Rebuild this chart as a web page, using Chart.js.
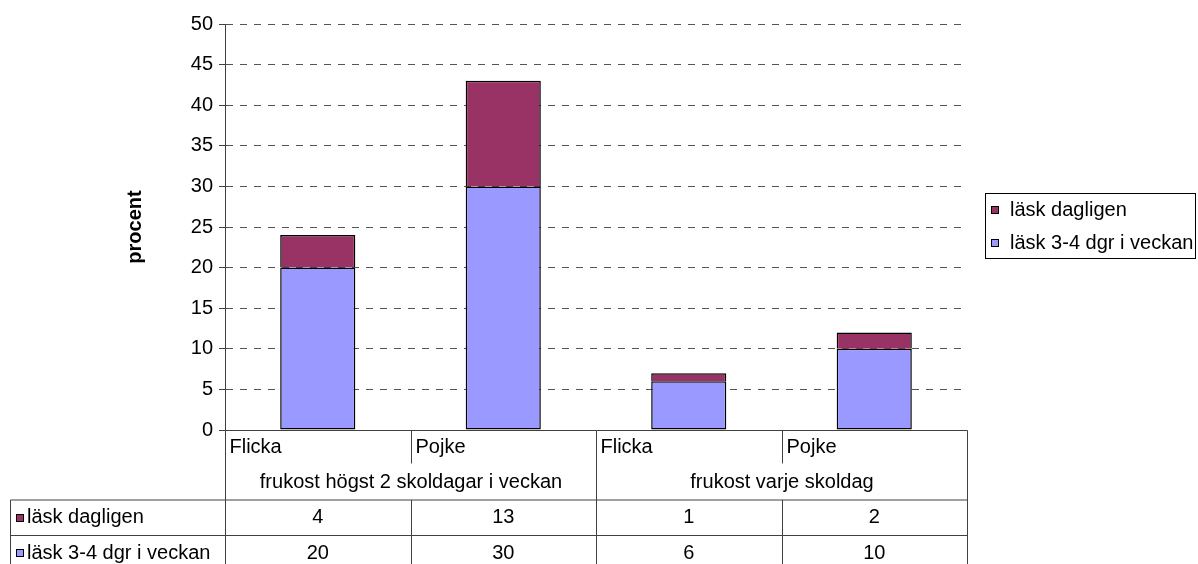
<!DOCTYPE html>
<html lang="sv">
<head>
<meta charset="UTF-8">
<title>Läsk och frukost</title>
<script src="https://cdn.jsdelivr.net/npm/chart.js"></script>
<style>
  html, body { margin: 0; padding: 0; background: #fff; }
</style>
</head>
<body>
<canvas id="chart" width="1198" height="564"></canvas>
<script>
// data
const categories = ['Flicka', 'Pojke', 'Flicka', 'Pojke'];
const groups = ['frukost högst 2 skoldagar i veckan', 'frukost varje skoldag'];
const seriesNames = ['läsk dagligen', 'läsk 3-4 dgr i veckan'];
const daily = [4, 13, 1, 2];
const weekly = [20, 30, 6, 10];
const yMin = 0, yMax = 50, yStep = 5;

const FONT = "'Liberation Sans', Arial, sans-serif";
const LINE = '#404040';
Chart.defaults.font.family = FONT;
Chart.defaults.font.size = 20;
Chart.defaults.color = '#000';

// data table under the plot + framed legend at the right
const tablePlugin = {
    id: 'dataTable',
    afterDraw(chart) {
        const ctx = chart.ctx;
        const xs = chart.scales.x;
        const area = chart.chartArea;
        const cw = xs.getPixelForValue(1) - xs.getPixelForValue(0);
        const edge = i => Math.round(xs.getPixelForValue(0) - cw / 2 + i * cw) + 0.5;
        const top = area.bottom + 0.5;
        const subEnd = top + 33;
        const r1 = top + 69.5;
        const r2 = r1 + 35.5;
        const bottom = chart.height;
        const left = 10.5;
        const n = categories.length;

        ctx.save();
        ctx.strokeStyle = LINE;
        ctx.lineWidth = 1;
        const line = (x1, y1, x2, y2) => {
            ctx.beginPath(); ctx.moveTo(x1, y1); ctx.lineTo(x2, y2); ctx.stroke();
        };
        line(edge(0), top, edge(n), top);
        line(left, r1, edge(n), r1);
        line(left, r2, edge(n), r2);
        line(left, r1, left, bottom);
        for (let i = 0; i <= n; i++) {
            if (i % 2 === 0) {
                line(edge(i), top, edge(i), bottom);
            } else {
                line(edge(i), top, edge(i), subEnd);
                line(edge(i), r1, edge(i), bottom);
            }
        }

        ctx.fillStyle = '#000';
        ctx.font = '20px ' + FONT;
        ctx.textBaseline = 'middle';
        ctx.textAlign = 'left';
        categories.forEach((c, i) => ctx.fillText(c, edge(i) + 4, top + 16.5));
        ctx.textAlign = 'center';
        groups.forEach((g, i) => ctx.fillText(g, (edge(2 * i) + edge(2 * i + 2)) / 2, top + 52));

        // rows: legend order (top series first)
        const rows = chart.data.datasets.slice().reverse();
        ctx.strokeStyle = '#000';
        rows.forEach((ds, r) => {
            const yc = (r === 0 ? r1 : r2) + 17.5;
            ds.data.forEach((v, i) => {
                ctx.textAlign = 'center';
                ctx.fillText(String(v), xs.getPixelForValue(i), yc);
            });
            ctx.fillStyle = ds.backgroundColor;
            ctx.fillRect(16, Math.round(yc) - 4, 8, 8);
            ctx.strokeRect(16.5, Math.round(yc) - 3.5, 7, 7);
            ctx.fillStyle = '#000';
            ctx.textAlign = 'left';
            ctx.fillText(ds.label, 27, yc);
        });

        // legend
        const lx = 985.5, ly = 193.5, lw = 210, lh = 65;
        ctx.strokeRect(lx, ly, lw, lh);
        rows.forEach((ds, r) => {
            const yc = 210 + r * 33;
            ctx.fillStyle = ds.backgroundColor;
            ctx.fillRect(991, yc - 4, 8, 8);
            ctx.strokeRect(991.5, yc - 3.5, 7, 7);
            ctx.fillStyle = '#000';
            ctx.textAlign = 'left';
            ctx.fillText(ds.label, 1010, yc);
        });
        ctx.restore();
    }
};

new Chart(document.getElementById('chart').getContext('2d'), {
    type: 'bar',
    data: {
        labels: categories,
        datasets: [
            {
                label: seriesNames[1],
                data: weekly,
                backgroundColor: '#9999FF',
                borderColor: '#000',
                borderWidth: 1.5,
                borderSkipped: false
            },
            {
                label: seriesNames[0],
                data: daily,
                backgroundColor: '#993366',
                borderColor: '#000',
                borderWidth: 1.5,
                borderSkipped: 'bottom'
            }
        ]
    },
    options: {
        responsive: false,
        animation: false,
        layout: { padding: { top: 24, right: 231, bottom: 134, left: 0 } },
        datasets: { bar: { barPercentage: 0.405, categoryPercentage: 1 } },
        plugins: {
            legend: { display: false },
            tooltip: { enabled: false }
        },
        scales: {
            x: { stacked: true, display: false },
            y: {
                stacked: true,
                min: yMin,
                max: yMax,
                ticks: { stepSize: yStep, padding: 6, color: '#000', font: { size: 20 } },
                grid: {
                    color: c => c.tick && c.tick.value === 0 ? 'rgba(0,0,0,0)' : '#555',
                    tickColor: LINE,
                    tickLength: 6
                },
                border: { display: true, color: LINE, dash: [7, 7] },
                title: {
                    display: true,
                    text: 'procent',
                    color: '#000',
                    font: { size: 20, weight: 'bold' },
                    padding: { top: 123, bottom: 0 }
                },
                afterFit: s => { s.width = 225; }
            }
        }
    },
    plugins: [tablePlugin]
});
</script>
</body>
</html>
